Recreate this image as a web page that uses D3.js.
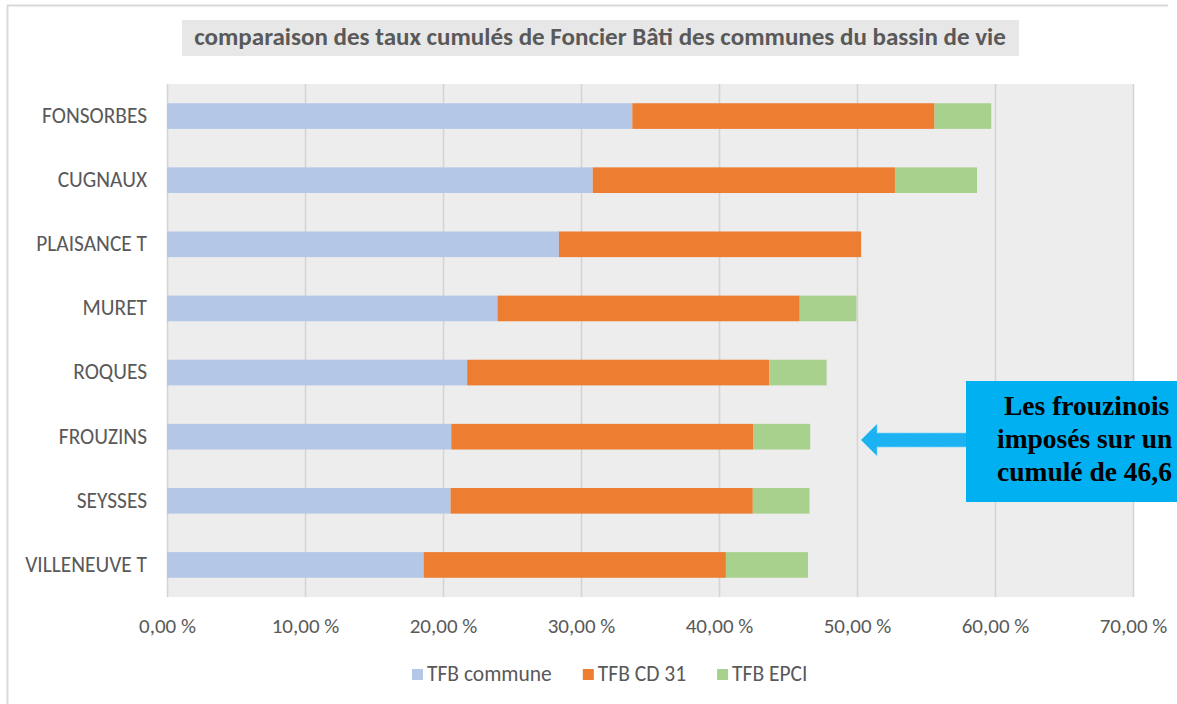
<!DOCTYPE html>
<html>
<head>
<meta charset="utf-8">
<script src="https://cdn.jsdelivr.net/npm/d3@7"></script>
<style>
  body { margin: 0; background: #fff; }
  svg { display: block; font-family: Carlito, Lato, "Open Sans", sans-serif; }
</style>
</head>
<body>
<main></main>
<script>
const communes = ["FONSORBES", "CUGNAUX", "PLAISANCE T", "MURET", "ROQUES", "FROUZINS", "SEYSSES", "VILLENEUVE T"]
const tfbCommune = [33.72, 30.85, 28.4, 23.95, 21.75, 20.6, 20.55, 18.6]
const tfbCD31 = [21.9, 21.9, 21.9, 21.9, 21.9, 21.9, 21.9, 21.9]
const tfbEPCI = [4.11, 5.95, 0, 4.11, 4.15, 4.11, 4.11, 5.95]
const seriesNames = ["TFB commune", "TFB CD 31", "TFB EPCI"]
const xTicks = [0, 10, 20, 30, 40, 50, 60, 70]
const title = "comparaison des taux cumulés de Foncier Bâti des communes du bassin de vie"
// the note box runs off the right edge of the picture: only its visible part is kept
const noteLines = ["Les frouzinois", "imposés sur un", "cumulé de 46,6"]

const colors = ["#b4c7e7", "#ed7d31", "#a9d18e"]
const w = 1177
const h = 704
const plot = { left: 167, right: 1133, top: 84, bottom: 597 }

const rows = communes.map((c, i) => ({
  commune: c,
  "TFB commune": tfbCommune[i],
  "TFB CD 31": tfbCD31[i],
  "TFB EPCI": tfbEPCI[i],
}))

const svg = d3.select("main").append("svg").attr("width", w).attr("height", h)

// chart frame (only top and left edges show in the crop)
svg.append("path")
  .attr("d", `M7.5,${h} V5.5 H1168`)
  .attr("fill", "none")
  .attr("stroke", "#d9d9d9")
  .attr("stroke-width", 2)

// title
const titleG = svg.append("g")
titleG.append("rect")
  .attr("x", 182).attr("y", 20).attr("width", 837).attr("height", 36)
  .attr("fill", "#e7e7e7")
const titleText = titleG.append("text")
  .attr("x", 600).attr("y", 45)
  .attr("text-anchor", "middle")
  .attr("font-size", 20).attr("font-weight", "bold")
  .attr("fill", "#595959")
  .text(title)
const tw = titleText.node().getComputedTextLength()
titleText.attr("font-size", 20 * 812 / tw)

const xScale = d3.scaleLinear().domain([0, 70]).range([plot.left, plot.right])
const yScale = d3.scaleBand()
  .domain(communes)
  .range([plot.top, plot.bottom])
  .paddingInner(0.6)
  .paddingOuter(0.3)

svg.append("rect")
  .attr("x", plot.left).attr("y", plot.top)
  .attr("width", plot.right - plot.left).attr("height", plot.bottom - plot.top)
  .attr("fill", "#ededed")

// x axis with gridlines
const xAxis = d3.axisBottom(xScale)
  .tickValues(xTicks)
  .tickSize(-(plot.bottom - plot.top))
  .tickPadding(21)
  .tickFormat((d) => d3.format(".2f")(d).replace(".", ",") + " %")

const gx = svg.append("g")
  .attr("id", "x-axis")
  .attr("transform", `translate(0, ${plot.bottom})`)
  .call(xAxis)
  .attr("font-family", null)
  .attr("font-size", 21)
gx.select(".domain").remove()
gx.selectAll("line").attr("stroke", "#d4d4d4").attr("stroke-width", 1.5)
gx.selectAll("text").attr("fill", "#595959")

// stacked bars
const stacked = d3.stack().keys(seriesNames)(rows)

svg.append("g")
  .selectAll("g")
  .data(stacked)
  .join("g")
  .attr("fill", (d, i) => colors[i])
  .selectAll("rect")
  .data((d) => d)
  .join("rect")
  .attr("x", (d) => xScale(d[0]))
  .attr("y", (d) => yScale(d.data.commune))
  .attr("width", (d) => xScale(d[1]) - xScale(d[0]))
  .attr("height", yScale.bandwidth())

// category axis
const yAxis = d3.axisLeft(yScale).tickSize(0).tickPadding(20)
const gy = svg.append("g")
  .attr("id", "y-axis")
  .attr("transform", `translate(${plot.left}, 0)`)
  .call(yAxis)
  .attr("font-family", null)
  .attr("font-size", 21.4)
gy.select(".domain").remove()
gy.selectAll("text").attr("fill", "#595959")

// legend
const legend = svg.append("g").attr("id", "legend")
let lx = 412
seriesNames.forEach((name, i) => {
  legend.append("rect")
    .attr("x", lx).attr("y", 669).attr("width", 11).attr("height", 11)
    .attr("fill", colors[i])
  const t = legend.append("text")
    .attr("x", lx + 15).attr("y", 681)
    .attr("font-size", 21.5).attr("fill", "#595959")
    .text(name)
  lx += 15 + t.node().getComputedTextLength() + 31
})

// annotation box + arrow
const note = svg.append("g")
note.append("path")
  .attr("d", "M861,440 L877,424 L877,433 L968,433 L968,447 L877,447 L877,456 Z")
  .attr("fill", "#1cb2f2")
  .attr("stroke", "#7fd3f7")
  .attr("stroke-width", 1)
  .attr("stroke-dasharray", "2,1")
note.append("rect")
  .attr("x", 966).attr("y", 381).attr("width", 290).attr("height", 121)
  .attr("fill", "#00b0f0")
const noteX = [1004, 997, 997]
note.selectAll("text.note")
  .data(noteLines)
  .join("text")
  .attr("class", "note")
  .attr("x", (d, i) => noteX[i])
  .attr("y", (d, i) => 415 + i * 33)
  .attr("font-family", "'Liberation Serif', 'DejaVu Serif', serif")
  .attr("font-weight", "bold")
  .attr("font-size", 27.5)
  .attr("fill", "#000")
  .text((d) => d)
</script>
</body>
</html>
